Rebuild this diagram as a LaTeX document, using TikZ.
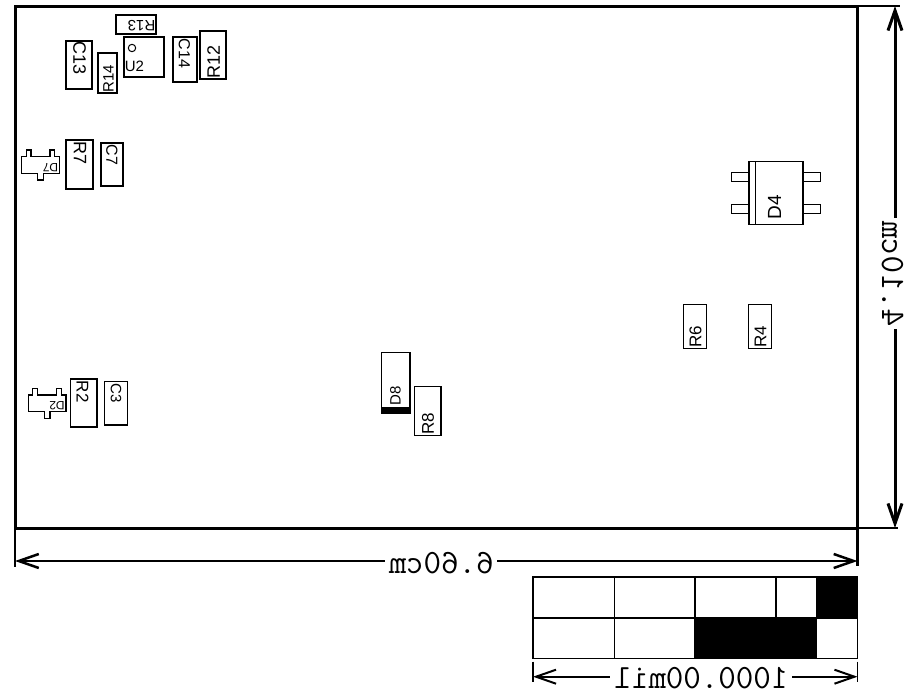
\documentclass[tikz,border=0pt]{standalone}
\usepackage{fontspec}
\setmainfont{Liberation Sans}
\usetikzlibrary{arrows.meta}
\tikzset{
  part/.style={draw,line width=1.2pt},
  fs/.style={font=\fontsize{#1}{#1}\selectfont},
  lbl/.style={inner sep=0pt,fs=#1},
  lblup/.style={lbl=#1,rotate=90},
  lbldown/.style={lbl=#1,rotate=-90},
  lblturn/.style={lbl=#1,rotate=180},
  dimtext/.style={inner sep=3pt,text height=#1,text depth=0pt,font=\ttfamily\fontsize{34}{34}\selectfont,xscale=-1,transform shape},
  dimarrow/.style={line width=#1,{Straight Barb[length=20pt,width=14pt,line width=#1]}-}
}
\begin{document}
\begin{tikzpicture}[x=1pt,y=-1pt]
        \useasboundingbox (0,0) rectangle (917,696);

        % board
        \draw[line width=3pt] (15,6) rectangle (857,528);

        % top left group
        \draw[part] (116,15) rectangle (156,34);
        \node[lblturn=15] (r13) at (141.5,25.5) {R13};
        \draw[part] (124,37) rectangle (164,77);
        \draw[line width=1pt] (132,48) circle (3.7);
        \node[lbl=15] (u2) at (134.5,66) {U2};
        \draw[part] (173,37) rectangle (197,82);
        \node[lbldown=16] (c14) at (184.5,53.5) {C14};
        \draw[part] (200,31) rectangle (226,79);
        \node[lblup=18] (r12) at (213.5,62) {R12};
        \draw[part] (66,41) rectangle (92,89);
        \node[lbldown=18] (c13) at (79.5,58.5) {C13};
        \draw[part] (98,53) rectangle (117,93);
        \node[lblup=15] (r14) at (108.5,79) {R14};

        % left, upper
        \draw[part] (66,140) rectangle (93,189);
        \node[lbldown=18] (r7) at (80,153.5) {R7};
        \draw[part] (101,143) rectangle (123,186);
        \node[lbldown=16] (c7) at (112,155) {C7};
        \draw[part] (21.7,156.7) -- (26.7,156.7) -- (26.7,150) -- (31,150) -- (31,156.7)
          -- (50,156.7) -- (50,150) -- (54.3,150) -- (54.3,156.7) -- (59.3,156.7)
          -- (59.3,173.3) -- (43.3,173.3) -- (43.3,180) -- (37.3,180) -- (37.3,173.3)
          -- (21.7,173.3) -- cycle;
        \node[lblturn=12] (d7) at (50.5,167.5) {D7};

        % left, lower
        \draw[part] (70.7,379) rectangle (97,427);
        \node[lbldown=17] (r2) at (82.5,391.7) {R2};
        \draw[part] (104.3,381.7) rectangle (127.3,425);
        \node[lbldown=15] (c3) at (116,393.3) {C3};
        \draw[part] (28.3,395) -- (32.7,395) -- (32.7,388.3) -- (37.3,388.3) -- (37.3,395)
          -- (56.7,395) -- (56.7,388.3) -- (61.7,388.3) -- (61.7,395) -- (66,395)
          -- (66,411.7) -- (50,411.7) -- (50,418.3) -- (44.3,418.3) -- (44.3,411.7)
          -- (28.3,411.7) -- cycle;
        \node[lblturn=12] (d2) at (57,405.5) {D2};

        % middle
        \draw[part] (381.7,352.7) rectangle (410,413.3);
        \fill (381,407.3) rectangle (410.7,413.8);
        \node[lblup=15] (d8) at (395.5,396) {D8};
        \draw[part] (414.3,386.7) rectangle (441,435.3);
        \node[lblup=17] (r8) at (428,424) {R8};

        % right
        \draw[part] (749,161.3) rectangle (803,224.7);
        \draw[part] (755.7,161.3) -- (755.7,224.7);
        \draw[part] (731.3,172.7) rectangle (749,181.7);
        \draw[part] (731.3,204.3) rectangle (749,213.3);
        \draw[part] (803,172.7) rectangle (820.7,181.7);
        \draw[part] (803,204.3) rectangle (820.7,213.3);
        \node[lblup=19] (d4) at (774.7,207.5) {D4};
        \draw[part] (683.7,304.3) rectangle (706.7,348.3);
        \node[lblup=17] (r6) at (695.5,336.5) {R6};
        \draw[part] (748.7,304.3) rectangle (771.3,348.3);
        \node[lblup=17] (r4) at (760.5,336.5) {R4};

        % layer table
        \fill (816,576.7) rectangle (857.3,618);
        \fill (694.7,618) rectangle (816.5,658.3);
        \draw[line width=1.6pt] (532.7,576.7) rectangle (857.3,658.3);
        \draw[line width=1.6pt] (532.7,618) -- (857.3,618);
        \draw[line width=1.6pt] (614.3,576.7) -- (614.3,658.3);
        \draw[line width=1.6pt] (694.7,576.7) -- (694.7,658.3);
        \draw[line width=1.6pt] (776,576.7) -- (776,618);

        % board width
        \coordinate (wl) at (15,561);
        \coordinate (wr) at (857.5,561);
        \node[dimtext=24pt] (wtxt) at (441,561) {6.60cm};
        \draw[line width=2.5pt] (15,530) -- (15,567);
        \draw[line width=2.5pt] (857.5,528) -- (857.5,566);
        \draw[dimarrow=2.5pt] (wl) -- (wtxt);
        \draw[dimarrow=2.5pt] (wr) -- (wtxt);

        % board height
        \coordinate (ht) at (895,6);
        \coordinate (hb) at (895,528);
        \node[dimtext=26pt,rotate=90] (htxt) at (895,273.5) {4.10cm};
        \draw[line width=2.5pt] (857,6) -- (900,6);
        \draw[line width=2.5pt] (857,528) -- (898,528);
        \draw[dimarrow=3pt] (ht) -- (htxt);
        \draw[dimarrow=3pt] (hb) -- (htxt);

        % table width
        \coordinate (tl) at (533,676.7);
        \coordinate (tr) at (857.5,676.7);
        \node[dimtext=22.6pt] (ttxt) at (700.8,676.7) {1000.00mil};
        \draw[line width=1.6pt] (533,661.7) -- (533,682);
        \draw[line width=1.6pt] (857.5,661.7) -- (857.5,682);
        \draw[dimarrow=2pt] (tl) -- (ttxt);
        \draw[dimarrow=2pt] (tr) -- (ttxt);
\end{tikzpicture}
\end{document}
